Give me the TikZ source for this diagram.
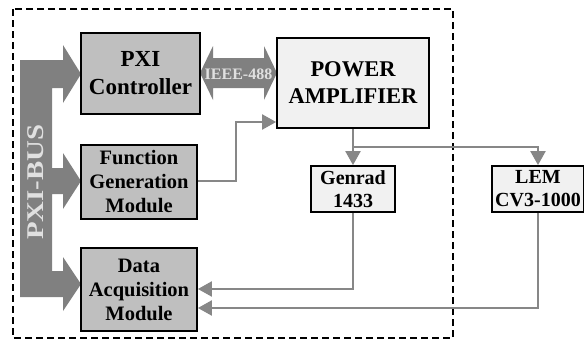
\documentclass[tikz,border=0pt]{standalone}
\usepackage{fontspec}
\setmainfont{Liberation Serif}
\usetikzlibrary{arrows.meta}
\definecolor{boxdark}{gray}{0.75}
\definecolor{boxlight}{gray}{0.945}
\definecolor{conn}{gray}{0.53}
\definecolor{busgray}{gray}{0.5}
\definecolor{buslabel}{gray}{0.88}
\tikzset{
  darkbox/.style={draw=black, line width=1.8pt, fill=boxdark, inner sep=0pt, align=center},
  lightbox/.style={draw=black, line width=1.8pt, fill=boxlight, inner sep=0pt, align=center},
  conline/.style={draw=conn, line width=2.2pt},
  conarrow/.style={conline, -{Triangle[length=14pt,width=15pt]}},
  bigarrow/.style={fill=busgray, draw=none},
  frame/.style={draw=black, line width=1.5pt, dash pattern=on 7pt off 4pt}
}
\begin{document}
\begin{tikzpicture}[x=1pt,y=-1pt]
\useasboundingbox (0,0) rectangle (584,340);
% dashed frame
\draw[frame] (13,9) rectangle (453,338);
% PXI-BUS arrow shape
\fill[bigarrow] (20,60) -- (63,60) -- (63,45) -- (81,74) -- (63,103) -- (63,88) -- (52,88)
  -- (52,168) -- (63,168) -- (63,153) -- (81,181) -- (63,209) -- (63,194) -- (52,194)
  -- (52,271) -- (63,271) -- (63,257) -- (81,284) -- (63,311) -- (63,297) -- (20,297) -- cycle;
\node[rotate=90, text=buslabel, font=\bfseries\fontsize{24}{28}\selectfont, inner sep=0pt] (bus) at (36,182)
  {\scalebox{1.2}[1]{PXI-BUS}};
% IEEE double arrow
\fill[bigarrow] (200,73) -- (213,46) -- (213,58) -- (264,58) -- (264,46) -- (277,73)
  -- (264,100) -- (264,88) -- (213,88) -- (213,100) -- cycle;
\node[text=buslabel, font=\bfseries\fontsize{16}{18}\selectfont, inner sep=0pt] (ieee) at (238.5,74)
  {IEEE-488};
% boxes
\node[darkbox, minimum width=119pt, minimum height=81pt, font=\bfseries\fontsize{23}{28}\selectfont] (pxi) at (140.5,73.5)
  {PXI\\Controller};
\node[darkbox, minimum width=116pt, minimum height=74pt, font=\bfseries\fontsize{20.5}{24}\selectfont] (fgm) at (139,182)
  {Function\\Generation\\Module};
\node[darkbox, minimum width=116pt, minimum height=83pt, font=\bfseries\fontsize{20.5}{24}\selectfont] (daq) at (139,289.5)
  {Data\\Acquisition\\Module};
\node[lightbox, minimum width=152pt, minimum height=90pt, font=\bfseries\fontsize{22.5}{27}\selectfont] (pa) at (353,83)
  {POWER\\AMPLIFIER};
\node[lightbox, minimum width=84pt, minimum height=46pt, font=\bfseries\fontsize{20}{23}\selectfont] (genrad) at (353,189)
  {Genrad\\1433};
\node[lightbox, minimum width=92pt, minimum height=46pt, font=\bfseries\fontsize{20}{23}\selectfont] (lem) at (538,189)
  {LEM\\CV3-1000};
% connectors
\coordinate (j) at (353,147);
\draw[conarrow] (pa.south) -- (genrad.north);
\draw[conarrow] (j) -| (lem.north);
\coordinate (fa) at (236,181);
\coordinate (fb) at (236,122);
\draw[conarrow] (fgm.east |- fa) -- (fa) -- (fb) -- (pa.west |- fb);
\coordinate (ga) at (353,289);
\draw[conarrow] (genrad.south) -- (ga) -- (daq.east |- ga);
\coordinate (la) at (538,308);
\draw[conarrow] (lem.south) -- (la) -- (daq.east |- la);
\end{tikzpicture}
\end{document}
